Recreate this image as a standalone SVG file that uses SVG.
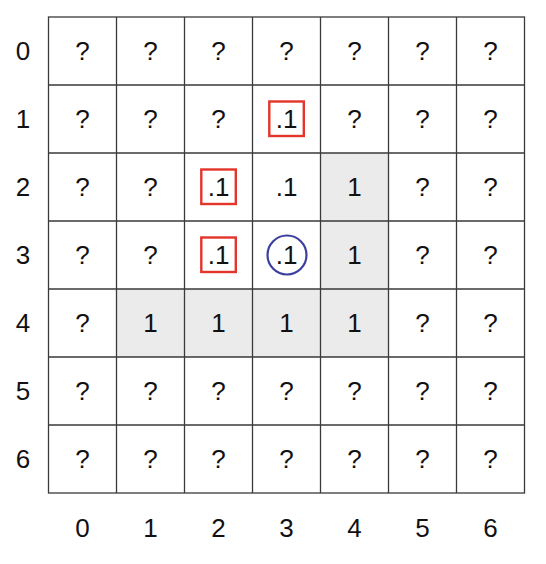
<svg xmlns="http://www.w3.org/2000/svg" width="546" height="564" viewBox="0 0 546 564">
<style>
text{font-family:"Liberation Sans",Arial,sans-serif;font-size:26px;fill:#111;text-anchor:middle}
.g{fill:#ebebeb}
.ln{stroke:#3a3a3a;stroke-width:1.3;fill:none}
.sq{fill:none;stroke:#e3352b;stroke-width:2.4}
.ci{fill:none;stroke:#3c3f9e;stroke-width:2.2}
</style>
<rect width="546" height="564" fill="#fff"/>
<g id="shading">
<rect class="g" x="320.5" y="153" width="68" height="136"/>
<rect class="g" x="116.5" y="289" width="272" height="68"/>
</g>
<g id="grid" class="ln">
<rect x="48.5" y="17" width="476" height="476"/>
<path d="M116.5 17V493M184.5 17V493M252.5 17V493M320.5 17V493M388.5 17V493M456.5 17V493M48.5 85H524.5M48.5 153H524.5M48.5 221H524.5M48.5 289H524.5M48.5 357H524.5M48.5 425H524.5"/>
</g>
<g id="row-labels">
<text x="23" y="60.3">0</text><text x="23" y="128.3">1</text><text x="23" y="196.3">2</text><text x="23" y="264.3">3</text><text x="23" y="332.3">4</text><text x="23" y="400.3">5</text><text x="23" y="468.3">6</text>
</g>
<g id="col-labels">
<text x="82.5" y="536.5">0</text><text x="150.5" y="536.5">1</text><text x="218.5" y="536.5">2</text><text x="286.5" y="536.5">3</text><text x="354.5" y="536.5">4</text><text x="422.5" y="536.5">5</text><text x="490.5" y="536.5">6</text>
</g>
<g id="row0"><text x="82.5" y="60.3">?</text><text x="150.5" y="60.3">?</text><text x="218.5" y="60.3">?</text><text x="286.5" y="60.3">?</text><text x="354.5" y="60.3">?</text><text x="422.5" y="60.3">?</text><text x="490.5" y="60.3">?</text></g>
<g id="row1"><text x="82.5" y="128.3">?</text><text x="150.5" y="128.3">?</text><text x="218.5" y="128.3">?</text><text x="286.5" y="128.3">.1</text><text x="354.5" y="128.3">?</text><text x="422.5" y="128.3">?</text><text x="490.5" y="128.3">?</text></g>
<g id="row2"><text x="82.5" y="196.3">?</text><text x="150.5" y="196.3">?</text><text x="218.5" y="196.3">.1</text><text x="286.5" y="196.3">.1</text><text x="354.5" y="196.3">1</text><text x="422.5" y="196.3">?</text><text x="490.5" y="196.3">?</text></g>
<g id="row3"><text x="82.5" y="264.3">?</text><text x="150.5" y="264.3">?</text><text x="218.5" y="264.3">.1</text><text x="286.5" y="264.3">.1</text><text x="354.5" y="264.3">1</text><text x="422.5" y="264.3">?</text><text x="490.5" y="264.3">?</text></g>
<g id="row4"><text x="82.5" y="332.3">?</text><text x="150.5" y="332.3">1</text><text x="218.5" y="332.3">1</text><text x="286.5" y="332.3">1</text><text x="354.5" y="332.3">1</text><text x="422.5" y="332.3">?</text><text x="490.5" y="332.3">?</text></g>
<g id="row5"><text x="82.5" y="400.3">?</text><text x="150.5" y="400.3">?</text><text x="218.5" y="400.3">?</text><text x="286.5" y="400.3">?</text><text x="354.5" y="400.3">?</text><text x="422.5" y="400.3">?</text><text x="490.5" y="400.3">?</text></g>
<g id="row6"><text x="82.5" y="468.3">?</text><text x="150.5" y="468.3">?</text><text x="218.5" y="468.3">?</text><text x="286.5" y="468.3">?</text><text x="354.5" y="468.3">?</text><text x="422.5" y="468.3">?</text><text x="490.5" y="468.3">?</text></g>
<g id="markers">
<rect class="sq" x="269.3" y="101.5" width="34.5" height="34.5"/>
<rect class="sq" x="201.3" y="169.5" width="34.5" height="34.5"/>
<rect class="sq" x="201.3" y="237.5" width="34.5" height="34.5"/>
<circle class="ci" cx="287" cy="255" r="19.5"/>
</g>
</svg>
